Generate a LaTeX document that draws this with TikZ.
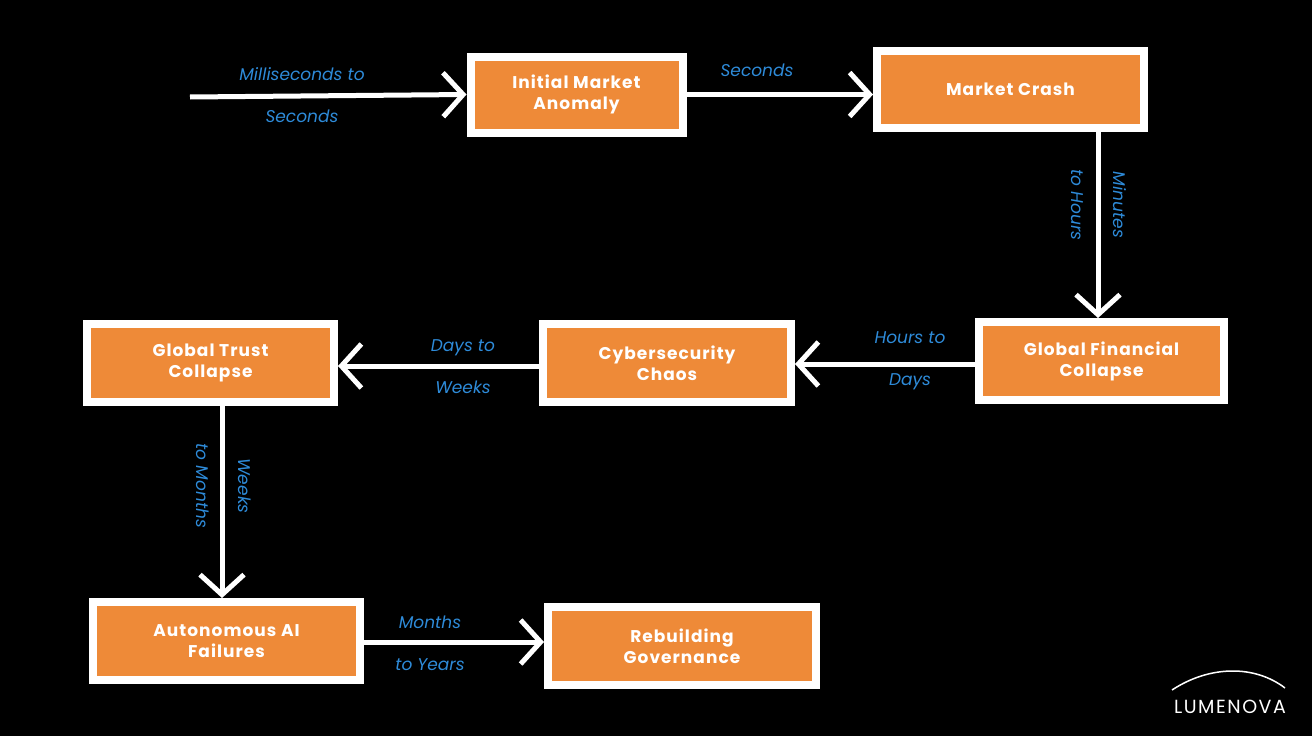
\documentclass[tikz,border=0pt]{standalone}
\usepackage{fontspec}
\setmainfont{Poppins}
\usetikzlibrary{arrows.meta}
\definecolor{org}{HTML}{EE8A38}
\definecolor{lbl}{HTML}{2E8BD9}
\begin{document}
\begin{tikzpicture}[x=1pt,y=-1pt,
 box/.style={draw=white,line width=8pt,fill=org,font=\bfseries\fontsize{17}{21}\selectfont\addfontfeatures{LetterSpace=6},text=white,align=center,inner sep=0pt},
 arr/.style={white,line width=5pt,-{Straight Barb[length=20pt,width=44pt,line width=5pt]}},
 lab/.style={text=lbl,font=\itshape\fontsize{17}{42}\selectfont,align=center}]
\fill[black] (0,0) rectangle (1312,736);
\useasboundingbox (0,0) rectangle (1312,736);
\node[box,minimum width=212pt,minimum height=76pt] (a) at (576.5,94.5) {Initial Market\\Anomaly};
\node[box,minimum width=267pt,minimum height=77pt] (b) at (1010.5,89.5) {Market Crash};
\node[box,minimum width=245pt,minimum height=78pt] (c) at (1101.5,361) {Global Financial\\Collapse};
\node[box,minimum width=248pt,minimum height=78pt] (d) at (667,363) {Cybersecurity\\Chaos};
\node[box,minimum width=247pt,minimum height=78pt] (e) at (210.5,363) {Global Trust\\Collapse};
\node[box,minimum width=267pt,minimum height=78pt] (f) at (226.5,641) {Autonomous AI\\Failures};
\node[box,minimum width=268pt,minimum height=78pt] (g) at (682,646) {Rebuilding\\Governance};
\coordinate (s) at (190,97);
\draw[arr] (s) -- (a.west);
\draw[arr] (a.east) -- (b.west|-a.east);
\draw[arr] (b.south-|1098,0) -- (c.north-|1098,0);
\draw[arr] (c.west|-0,364) -- (d.east|-0,364);
\draw[arr] (d.west|-0,366) -- (e.east|-0,366);
\draw[arr] (e.south-|222,0) -- (f.north-|222,0);
\draw[arr] (f.east|-0,642) -- (g.west|-0,642);
\node[lab] (l1) at (302,95) {Milliseconds to\\Seconds};
\node[lab] (l2) at (757,70) {Seconds};
\node[lab,rotate=-90] (l3) at (1099,205) {Minutes\\to Hours};
\node[lab] (l4) at (910,361) {Hours to\\Days};
\node[lab] (l5) at (463,367) {Days to\\Weeks};
\node[lab,rotate=-90] (l6) at (224,486) {Weeks\\to Months};
\node[lab] (l7) at (430,643) {Months\\to Years};
\node[text=white,font=\fontsize{19}{20}\selectfont\addfontfeatures{LetterSpace=8}] (logo) at (1230,707) {LUMENOVA};
\draw[white,line width=1.5pt] (1172,690) .. controls (1210,665) and (1255,665) .. (1285,688);
\end{tikzpicture}
\end{document}
